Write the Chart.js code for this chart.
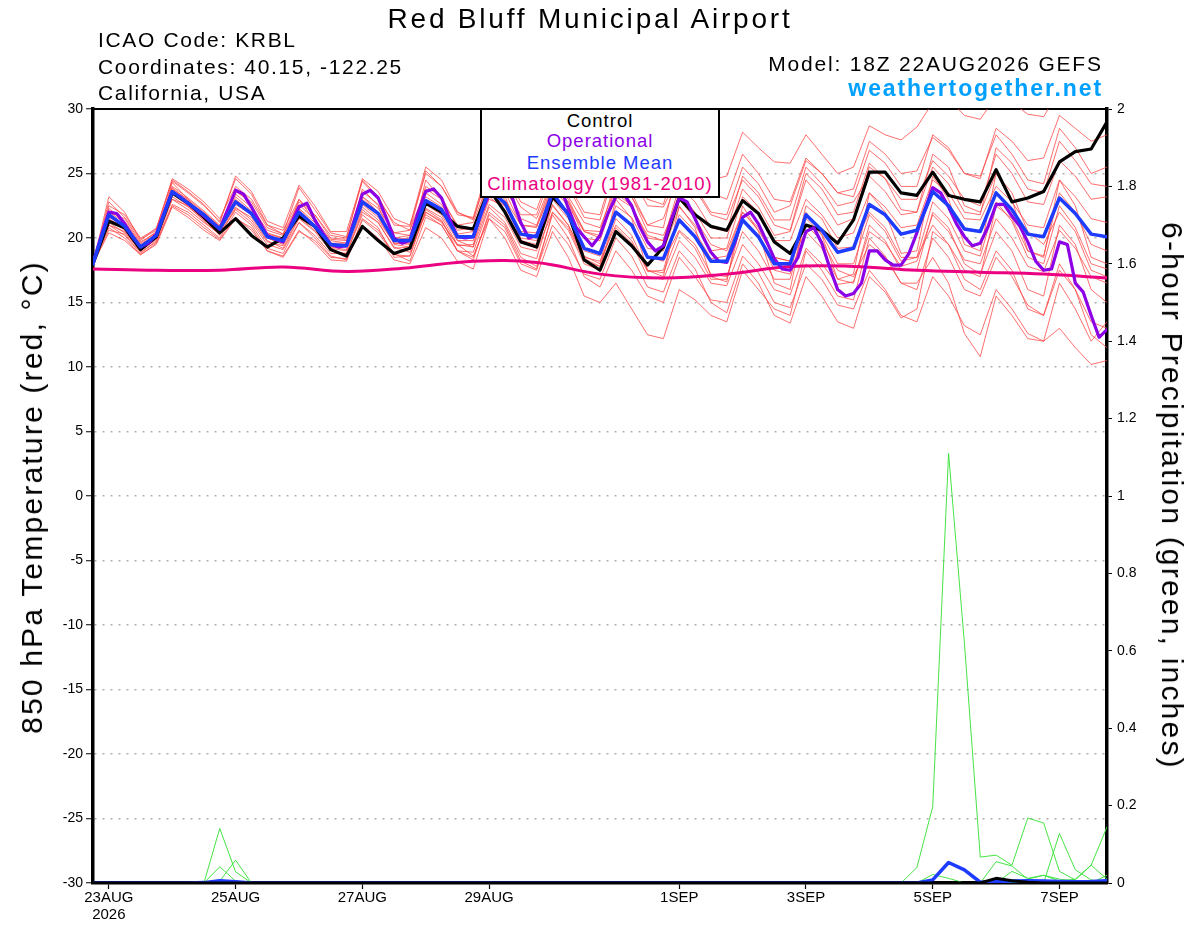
<!DOCTYPE html>
<html>
<head>
<meta charset="utf-8">
<script src="https://cdn.jsdelivr.net/npm/chart.js@4.4.1/dist/chart.umd.min.js"></script>
<style>
  html, body { margin: 0; padding: 0; background: #fff; }
  #wrap { position: relative; width: 1200px; height: 927px; overflow: hidden;
          font-family: "Liberation Sans", Arial, Helvetica, sans-serif; color: #000; }
  #cbox { position: absolute; left: 0; top: 0; width: 1200px; height: 927px; }
  .t { position: absolute; white-space: nowrap; line-height: 1; }
  #legend { position: absolute; left: 480px; top: 108px; width: 240px; height: 90px;
            box-sizing: border-box; border: 2px solid #000; background: #fff; }
  #legend div { position: absolute; left: 0; width: 100%; text-align: center;
                font-size: 18.5px; letter-spacing: 1px; line-height: 1; white-space: nowrap; }
  .rot { position: absolute; white-space: nowrap; line-height: 1; font-size: 30px; letter-spacing: 2.2px; }
</style>
</head>
<body>
<div id="wrap">
  <div id="cbox"><canvas id="c"></canvas></div>

  <div class="t" style="left:0;width:1180px;text-align:center;top:4.6px;font-size:28px;letter-spacing:2.8px;">Red Bluff Municipal Airport</div>
  <div class="t" style="left:98px;top:28.9px;font-size:21px;letter-spacing:1.65px;">ICAO Code: KRBL</div>
  <div class="t" style="left:98px;top:55.5px;font-size:21px;letter-spacing:1.65px;">Coordinates: 40.15, -122.25</div>
  <div class="t" style="left:98px;top:82.2px;font-size:21px;letter-spacing:1.65px;">California, USA</div>
  <div class="t" style="right:97.2px;top:53.2px;font-size:21px;letter-spacing:1.8px;">Model: 18Z 22AUG2026 GEFS</div>
  <div class="t" style="right:97px;top:77.2px;font-size:23px;font-weight:bold;letter-spacing:1.9px;color:#00a0ff;">weathertogether.net</div>

  <div id="legend">
    <div style="top:1.6px;color:#000;">Control</div>
    <div style="top:22px;color:#8c00e6;">Operational</div>
    <div style="top:43.6px;color:#1e3cff;">Ensemble Mean</div>
    <div style="top:65px;color:#eb0082;">Climatology (1981-2010)</div>
  </div>

  <div class="rot" style="left:31.7px;top:496.5px;transform:translate(-50%,-50%) rotate(-90deg);">850 hPa Temperature (red, °C)</div>
  <div class="rot" style="left:1172px;top:496px;transform:translate(-50%,-50%) rotate(90deg);">6-hour Precipitation (green, inches)</div>
</div>

<script>
// ---------------- DATA ----------------
// time axis: hours after 18Z 22AUG2026
const tickHours  = [6, 54, 102, 150, 222, 270, 318, 366];
const tickLabels = ['23AUG', '25AUG', '27AUG', '29AUG', '1SEP', '3SEP', '5SEP', '7SEP'];
const yearLabel  = '2026';
const stepEns = 6;     // ensemble output every 6 h
const stepOper = 3;    // operational output every 3 h
const stepClim = 24;   // climatology daily

// 850 hPa temperature (°C)
const ensMean = [18.0,
  21.8,20.9,19.3,20.2, 23.6,22.7,21.8,20.7, 22.8,21.9,20.1,19.8, 22.0,20.9,19.5,19.4,
  22.8,21.9,19.8,19.8, 22.9,22.2,20.1,20.1, 23.8,22.7,20.3,20.1, 23.5,21.8,19.2,18.8,
  22.0,21.0,18.5,18.4, 21.4,20.1,18.2,18.2, 21.4,20.1,18.0,18.0, 21.8,20.6,18.9,19.2,
  22.6,21.8,20.3,20.6, 23.6,22.5,20.7,20.5, 23.5,22.2,20.3,20.1, 23.1,21.9,20.3,20.1];

const control = [18.0,
  21.3,20.8,19.1,20.1, 23.5,22.7,21.6,20.4, 21.5,20.2,19.3,20.0, 21.7,20.9,19.1,18.6,
  20.9,19.8,18.8,19.2, 22.7,22.0,20.9,20.7, 23.8,22.0,19.7,19.3, 23.2,21.9,18.3,17.5,
  20.5,19.4,17.9,19.3, 23.1,21.8,20.9,20.6, 22.9,21.9,19.7,18.8, 21.0,20.6,19.6,21.4,
  25.1,25.1,23.5,23.3, 25.1,23.3,23.0,22.8, 25.3,22.8,23.1,23.6, 25.9,26.7,26.9,29.0];

const operational = [
  18.0,20.1,22.0,21.9,21.1,20.1,19.3,19.6,20.3,22.0,23.6,23.2,22.7,22.2,21.7,21.2,
  20.7,22.2,23.7,23.4,22.4,21.3,20.2,19.9,19.7,21.1,22.4,22.7,21.4,20.4,19.5,19.3,19.4,
  21.4,23.4,23.7,23.1,21.6,20.0,19.6,19.8,21.9,23.6,23.8,23.1,21.5,20.1,20.0,20.1,
  21.9,23.4,24.3,24.0,23.0,21.2,20.0,20.2,21.6,23.5,24.0,22.3,20.8,20.1,19.4,20.2,
  21.9,23.2,23.4,22.5,20.9,19.7,19.0,19.4,21.4,23.1,22.8,21.5,20.1,18.9,18.2,18.1,
  19.6,21.6,22.0,21.1,19.8,18.4,17.6,17.5,18.5,20.5,20.8,19.6,17.7,16.0,15.5,15.7,
  16.5,19.0,19.0,18.3,17.9,17.9,18.8,20.4,22.2,23.9,23.5,22.4,21.1,20.1,19.4,19.6,
  20.9,22.6,22.6,21.7,20.9,19.7,18.2,17.5,17.6,19.7,19.5,16.5,15.8,14.0,12.3,12.9];

const climatology = [17.6,17.5,17.5,17.75,17.4,17.7,18.2,18.1,17.2,16.9,17.2,17.8,17.8,17.5,17.35,17.2,16.9];

const member01 = [18.0, 23.2,22.0,19.8,20.8, 24.4,23.5,22.5,21.3, 24.6,23.4,21.0,20.3, 23.9,22.2,20.4,20.1, 24.4,23.0,21.2,20.6, 25.2,24.0,22.0,21.4, 25.5,24.6,22.4,21.5, 24.5,23.2,21.2,20.8, 24.0,23.2,21.0,20.8, 26.0,25.0,24.5,24.8, 28.2,27.0,25.9,25.8, 28.0,26.5,25.0,25.5, 28.7,28.0,27.6,28.6, 30.5,30.8,29.5,29.2, 31.0,30.5,29.6,29.4, 31.5,30.8,30.2,30.5];
const member02 = [18.0, 20.6,20.3,18.9,19.7, 22.6,22.0,21.0,20.0, 22.0,21.0,19.2,18.8, 21.2,20.0,18.6,18.3, 21.5,20.6,18.8,18.2, 21.6,21.0,19.0,18.3, 22.0,21.0,18.5,17.8, 21.8,20.0,17.0,16.2, 19.0,17.5,15.5,15.0, 18.5,17.0,15.2,15.0, 18.6,17.3,15.0,14.6, 18.0,16.8,14.8,14.5, 17.5,16.0,14.0,13.5, 17.0,15.5,13.2,12.5, 16.0,14.5,12.6,12.0, 13.0,11.5,10.2,10.5];
const member03 = [18.0, 21.0,20.5,19.0,20.0, 23.0,22.5,21.3,20.3, 22.3,21.6,19.8,19.2, 21.5,20.5,19.0,18.8, 22.0,21.2,19.3,18.9, 22.0,21.2,19.5,18.6, 21.5,20.0,17.5,17.0, 20.5,18.5,15.5,15.0, 16.5,14.5,12.5,12.2, 16.0,15.2,14.0,13.5, 17.5,16.0,14.5,14.0, 19.0,17.5,15.5,15.2, 20.0,18.6,16.5,16.5, 18.5,16.5,12.6,10.8, 15.5,14.0,12.2,12.0, 16.5,14.5,12.0,13.5];
const member04 = [18.0, 22.3,21.3,19.6,20.5, 24.0,23.1,22.1,21.0, 23.4,22.4,20.6,20.2, 22.6,21.4,19.9,19.8, 23.6,22.6,20.4,20.2, 24.0,23.2,20.8,20.6, 24.6,23.6,21.0,20.8, 24.2,22.8,20.0,19.8, 23.5,22.5,20.0,19.8, 23.5,22.0,20.0,20.0, 23.8,22.4,20.2,20.5, 24.5,23.0,21.0,21.5, 25.5,24.6,23.0,23.0, 26.0,24.8,23.0,22.5, 26.5,25.0,22.8,22.6, 26.0,24.8,23.0,23.2];
const member05 = [18.0, 21.4,20.6,19.0,19.9, 23.2,22.4,21.4,20.5, 22.4,21.4,19.7,19.4, 21.6,20.6,19.2,19.0, 22.2,21.2,19.2,19.3, 22.3,21.6,19.5,19.3, 22.6,21.6,19.3,19.0, 22.0,20.6,18.0,17.5, 20.8,19.6,17.0,16.8, 19.8,18.5,16.5,16.3, 19.5,18.0,16.0,15.6, 19.2,18.0,16.4,16.6, 20.5,19.6,17.8,18.2, 21.8,20.5,18.3,18.0, 21.5,20.0,17.8,17.4, 20.6,19.2,17.0,16.5];
const member06 = [18.0, 22.8,21.6,19.9,20.6, 24.5,23.6,22.6,21.2, 24.8,23.6,21.3,20.8, 24.1,22.5,20.5,20.5, 24.5,23.2,21.0,20.9, 25.5,24.5,22.0,21.5, 25.0,24.0,21.5,21.0, 24.5,23.0,20.5,20.0, 24.0,23.2,20.5,20.2, 23.0,21.5,19.5,19.0, 22.0,20.6,18.5,18.2, 21.0,19.8,17.5,17.0, 19.5,18.5,16.5,16.0, 20.0,18.5,16.0,15.5, 18.5,17.0,14.8,14.0, 17.5,16.0,13.5,13.0];
const member07 = [18.0, 20.8,20.0,18.7,19.6, 22.5,21.8,20.8,19.9, 21.6,20.6,19.0,18.6, 20.6,19.6,18.3,18.2, 21.4,20.4,18.7,18.6, 22.0,21.3,19.4,19.5, 23.0,22.5,20.5,20.4, 23.8,22.8,20.6,20.5, 24.5,23.5,21.0,21.5, 25.0,24.0,22.0,21.8, 25.5,24.2,22.0,22.5, 26.0,25.0,23.5,23.8, 27.5,26.5,25.0,25.2, 27.8,26.8,25.0,24.6, 28.5,27.5,26.0,26.2, 29.5,28.5,27.5,28.0];
const member08 = [18.0, 21.9,21.0,19.2,20.0, 24.3,23.0,21.5,20.2, 23.8,22.6,20.0,19.5, 23.0,21.3,19.3,19.1, 23.8,22.5,19.5,19.3, 24.5,23.0,19.8,19.3, 24.8,23.3,19.8,19.2, 24.5,22.5,18.6,18.0, 23.0,21.5,17.5,17.0, 22.5,20.8,17.0,16.6, 22.5,20.5,16.5,16.0, 22.0,20.2,16.8,17.2, 23.5,22.0,18.8,19.0, 24.8,23.0,19.5,19.0, 25.0,23.0,19.0,18.5, 24.5,22.5,18.5,18.0];
const member09 = [18.0, 22.0,21.2,19.5,20.4, 23.8,23.0,22.0,20.9, 23.0,22.0,20.3,20.0, 22.3,21.2,19.8,19.6, 23.2,22.3,20.4,20.6, 23.8,23.0,21.0,21.2, 24.5,23.8,21.8,21.8, 25.2,24.0,21.6,21.4, 25.5,24.8,22.5,22.4, 25.0,23.8,21.8,21.4, 24.5,23.2,21.0,20.6, 25.0,23.8,21.8,22.0, 25.8,24.6,22.2,22.0, 26.5,25.5,22.5,22.0, 25.0,23.5,20.5,19.5, 22.0,20.5,17.5,17.0];
const member10 = [18.0, 21.2,20.4,19.1,20.1, 23.4,22.5,21.5,20.6, 22.6,21.8,20.0,19.6, 21.8,20.8,19.4,19.3, 22.4,21.4,19.6,19.5, 21.8,21.0,19.0,18.5, 21.8,20.8,18.2,17.6, 21.0,19.5,17.2,16.8, 20.0,18.6,16.2,15.8, 19.0,17.6,15.0,14.2, 18.0,16.5,14.0,13.4, 17.0,15.5,13.5,13.0, 17.0,15.8,13.8,14.5, 20.5,19.5,17.5,17.0, 22.5,21.5,19.0,18.6, 23.5,22.0,19.5,19.0];
const member11 = [18.0, 22.5,21.8,20.0,20.7, 24.6,23.8,22.8,21.5, 24.0,23.0,21.0,20.6, 23.0,21.8,20.2,20.0, 24.6,23.6,21.5,21.0, 25.0,24.0,21.8,21.6, 25.8,25.0,22.8,22.2, 25.5,24.2,22.0,21.8, 25.8,25.2,23.0,22.6, 26.8,25.6,23.5,23.0, 26.5,25.0,23.0,22.8, 26.2,25.0,23.5,23.2, 26.8,25.8,24.0,24.0, 28.0,27.0,25.0,24.8, 28.0,26.5,24.5,24.2, 28.5,27.0,25.0,25.5];
const member12 = [18.0, 20.4,19.8,18.7,19.5, 22.4,21.6,20.6,19.8, 21.5,20.8,19.0,18.5, 20.5,19.8,18.5,18.4, 21.0,20.0,18.3,18.0, 20.8,20.0,18.2,17.6, 21.5,20.5,18.0,17.5, 22.0,20.8,18.2,17.8, 21.5,20.2,17.5,17.3, 20.5,19.2,16.8,16.8, 21.5,20.2,17.5,17.2, 22.5,21.5,19.2,19.3, 22.0,20.8,18.5,18.5, 21.0,19.5,16.8,16.0, 19.0,17.5,14.5,14.0, 18.0,16.0,12.5,11.5];
const member13 = [18.0, 21.6,21.1,19.4,20.3, 23.9,22.9,21.9,20.8, 23.2,22.1,20.4,20.0, 22.2,21.0,19.6,19.6, 23.0,22.0,19.9,20.0, 23.2,22.4,20.3,20.5, 23.5,22.5,20.0,19.8, 23.0,21.5,19.0,18.6, 22.5,21.6,19.2,19.0, 22.4,21.0,19.0,19.2, 23.2,22.0,19.8,19.8, 23.0,21.8,20.0,20.4, 23.5,22.4,20.8,21.0, 24.5,23.5,21.5,21.4, 24.0,22.8,21.0,20.8, 24.5,23.2,21.5,21.2];
const member14 = [18.0, 21.5,20.8,19.2,20.0, 23.5,22.8,21.8,20.6, 22.7,21.8,20.2,19.9, 21.9,20.8,19.5,19.4, 22.6,21.6,19.6,19.6, 22.6,21.8,19.8,19.8, 23.2,22.2,19.8,19.5, 22.5,21.0,18.5,18.2, 21.0,19.8,17.4,17.5, 21.8,20.5,18.4,18.6, 22.0,20.8,18.5,18.2, 20.5,19.2,16.8,16.5, 21.0,19.8,17.5,17.5, 22.0,20.8,18.0,17.2, 20.5,19.0,16.0,15.5, 21.0,19.5,16.0,15.0];
const member15 = [18.0, 22.0,21.5,19.7,20.4, 23.7,22.8,21.9,20.9, 23.6,22.8,20.8,20.3, 22.8,21.8,20.0,19.9, 23.2,22.0,20.0,20.2, 23.5,22.6,20.6,20.8, 24.0,23.0,21.0,20.9, 23.8,22.5,20.5,20.2, 23.2,22.4,20.2,19.8, 24.0,22.8,20.8,20.5, 24.8,23.5,21.4,21.4, 25.5,24.2,22.5,22.8, 24.8,23.6,21.8,22.0, 25.5,24.2,22.0,21.8, 27.0,25.8,23.8,23.5, 27.5,26.0,24.2,24.0];
const member16 = [18.0, 21.0,20.2,18.8,19.8, 23.0,22.2,21.2,20.3, 22.2,21.2,19.5,19.1, 21.2,20.2,18.8,18.8, 21.8,20.8,18.5,18.6, 22.2,21.4,19.0,18.9, 22.4,21.2,18.8,18.4, 22.6,21.0,18.4,17.8, 22.0,21.0,18.6,18.2, 20.6,19.5,17.2,17.0, 20.5,19.0,16.8,16.8, 21.5,20.3,18.0,18.0, 21.8,20.5,18.2,18.5, 22.8,21.5,19.0,18.6, 22.8,21.3,18.5,18.0, 22.5,20.8,18.0,17.6];
const members = [member01, member02, member03, member04, member05, member06, member07, member08,
                 member09, member10, member11, member12, member13, member14, member15, member16];

// 6-hour precipitation (inches)
const precip01 = [0,0,0,0,0,0,0,0,0,0,0,0,0, 0,0,0,0,0,0,0,0,0,0,0,0,0, 0,0,0,0,0,0,0,0,0,0,0,0,0, 0,0,0,0,0,0,0,0,0,0,0,0,0, 0.04,0.197,1.11,0.62,0.067,0.072,0.046,0.168,0.155,0.03,0.008,0.046,0.01];
const precip02 = [0,0,0,0,0,0,0,0,0,0,0,0,0, 0,0,0,0,0,0,0,0,0,0,0,0,0, 0,0,0,0,0,0,0,0,0,0,0,0,0, 0,0,0,0,0,0,0,0,0,0,0,0,0, 0,0.022,0.012,0,0,0,0,0,0,0,0,0,0];
const precip03 = [0,0,0,0,0,0,0,0,0,0,0,0,0, 0,0,0,0,0,0,0,0,0,0,0,0,0, 0,0,0,0,0,0,0,0,0,0,0,0,0, 0,0,0,0,0,0,0,0,0,0,0,0,0, 0,0,0,0,0,0.055,0.044,0.01,0.02,0.005,0.01,0.046,0.145];
const precip04 = [0,0,0,0,0,0,0,0,0,0,0,0,0, 0,0,0,0,0,0,0,0,0,0,0,0,0, 0,0,0,0,0,0,0,0,0,0,0,0,0, 0,0,0,0,0,0,0,0,0,0,0,0,0, 0,0,0,0,0,0,0,0,0,0.128,0.034,0.008,0];
const precip05 = [0,0,0,0,0,0,0,0,0,0,0,0,0, 0,0,0,0,0,0,0,0,0,0,0,0,0, 0,0,0,0,0,0,0,0,0,0,0,0,0, 0,0,0,0,0,0,0,0,0,0,0,0,0, 0,0,0,0,0,0,0.03,0.012,0.02,0.01,0.005,0,0.02];
const precip06 = [0,0,0,0,0,0,0,0,0.141,0.029,0,0,0, 0,0,0,0,0,0,0,0,0,0,0,0,0, 0,0,0,0,0,0,0,0,0,0,0,0,0, 0,0,0,0,0,0,0,0,0,0,0,0,0, 0,0,0,0,0,0,0,0,0,0,0,0,0];
const precip07 = [0,0,0,0,0,0,0,0,0.042,0.005,0,0,0, 0,0,0,0,0,0,0,0,0,0,0,0,0, 0,0,0,0,0,0,0,0,0,0,0,0,0, 0,0,0,0,0,0,0,0,0,0,0,0,0, 0,0,0,0,0,0,0,0,0,0,0,0,0];
const precip08 = [0,0,0,0,0,0,0,0,0.005,0.059,0,0,0, 0,0,0,0,0,0,0,0,0,0,0,0,0, 0,0,0,0,0,0,0,0,0,0,0,0,0, 0,0,0,0,0,0,0,0,0,0,0,0,0, 0,0,0,0,0,0,0,0,0,0,0,0,0];
const precipMembers = [precip01, precip02, precip03, precip04, precip05, precip06, precip07, precip08];
const precipMean    = [0,0,0,0,0,0,0,0.001,0.006,0.003,0,0,0, 0,0,0,0,0,0,0,0,0,0,0,0,0, 0,0,0,0,0,0,0,0,0,0,0,0,0, 0,0,0,0,0,0,0,0,0,0,0,0,0, 0,0.008,0.053,0.034,0.002,0.004,0.005,0.006,0.005,0.004,0.003,0.004,0.006];
const precipControl = [0,0,0,0,0,0,0,0,0,0,0,0,0, 0,0,0,0,0,0,0,0,0,0,0,0,0, 0,0,0,0,0,0,0,0,0,0,0,0,0, 0,0,0,0,0,0,0,0,0,0,0,0,0, 0,0,0,0,0,0.012,0.006,0.002,0,0,0,0,0];

// ---------------- CHART ----------------
const FONT = "'Liberation Sans', Arial, Helvetica, sans-serif";
const pts = (arr, step) => arr.map((v, i) => ({ x: i * step, y: v }));

const datasets = [];
datasets.push({ label: 'Ensemble Mean', data: pts(ensMean, stepEns), borderColor: '#1e3cff', borderWidth: 3.5, order: 1, yAxisID: 'y' });
datasets.push({ label: 'Operational', data: pts(operational, stepOper), borderColor: '#8c00e6', borderWidth: 3.2, order: 2, yAxisID: 'y' });
datasets.push({ label: 'Control', data: pts(control, stepEns), borderColor: '#000000', borderWidth: 3.2, order: 3, yAxisID: 'y' });
datasets.push({ label: 'Climatology', data: pts(climatology, stepClim), borderColor: '#eb0082', borderWidth: 3, tension: 0.4, order: 4, yAxisID: 'y' });
members.forEach((m, i) => datasets.push({ label: 'Member ' + (i + 1), data: pts(m, stepEns), borderColor: 'rgba(255,70,70,0.78)', borderWidth: 1, order: 20, yAxisID: 'y' }));
datasets.push({ label: 'Precip Control', data: pts(precipControl, stepEns), borderColor: '#000000', borderWidth: 3, order: 5, yAxisID: 'y2' });
datasets.push({ label: 'Precip Mean', data: pts(precipMean, stepEns), borderColor: '#1e3cff', borderWidth: 3.5, order: 6, yAxisID: 'y2' });
precipMembers.forEach((m, i) => datasets.push({ label: 'Precip Member ' + (i + 1), data: pts(m, stepEns), borderColor: 'rgba(60,225,60,0.95)', borderWidth: 1, order: 19, yAxisID: 'y2' }));

new Chart(document.getElementById('c'), {
  type: 'line',
  data: { datasets },
  options: {
    responsive: true,
    maintainAspectRatio: false,
    animation: false,
    parsing: true,
    elements: { point: { radius: 0 }, line: { tension: 0, borderCapStyle: 'round', borderJoinStyle: 'round' } },
    layout: { padding: { top: 109, left: 0, right: 0, bottom: 0 } },
    plugins: { legend: { display: false }, tooltip: { enabled: false }, title: { display: false } },
    scales: {
      x: {
        type: 'linear', position: 'bottom', min: 0, max: 384,
        afterBuildTicks: (s) => { s.ticks = tickHours.map(v => ({ value: v })); },
        afterFit: (s) => { s.height = 44; },
        ticks: {
          autoSkip: false, maxRotation: 0, minRotation: 0, padding: 1, color: '#000',
          font: { family: FONT, size: 15, lineHeight: 1.1 },
          callback: (v) => { const i = tickHours.indexOf(v); return i === 0 ? [tickLabels[0], yearLabel] : tickLabels[i]; }
        },
        grid: { display: true, drawOnChartArea: false, drawTicks: true, tickLength: 6, tickColor: '#000', tickWidth: 1.2 },
        border: { display: true, color: '#000', width: 3.5 }
      },
      xTop: {
        type: 'linear', position: 'top', min: 0, max: 384,
        afterFit: (s) => { s.height = 0; },
        ticks: { display: false }, grid: { display: false },
        border: { display: true, color: '#000', width: 2 }
      },
      y: {
        type: 'linear', position: 'left', min: -30, max: 30,
        afterFit: (s) => { s.width = 93; },
        ticks: { stepSize: 5, color: '#000', padding: 3, font: { family: FONT, size: 14 } },
        grid: { display: true, drawOnChartArea: true, color: '#b0b0b0', lineWidth: 1.5, drawTicks: true, tickLength: 7, tickColor: '#000', tickWidth: 1 },
        border: { display: true, color: '#000', width: 3.5, dash: [2, 6] }
      },
      y2: {
        type: 'linear', position: 'right', min: 0, max: 2,
        afterFit: (s) => { s.width = 93; },
        ticks: { stepSize: 0.2, color: '#000', padding: 5, font: { family: FONT, size: 14 },
                 callback: (v) => String(Math.round(v * 10) / 10) },
        grid: { display: true, drawOnChartArea: false, drawTicks: true, tickLength: 5, tickColor: '#000', tickWidth: 1 },
        border: { display: true, color: '#000', width: 3.5 }
      }
    }
  }
});
</script>
</body>
</html>
